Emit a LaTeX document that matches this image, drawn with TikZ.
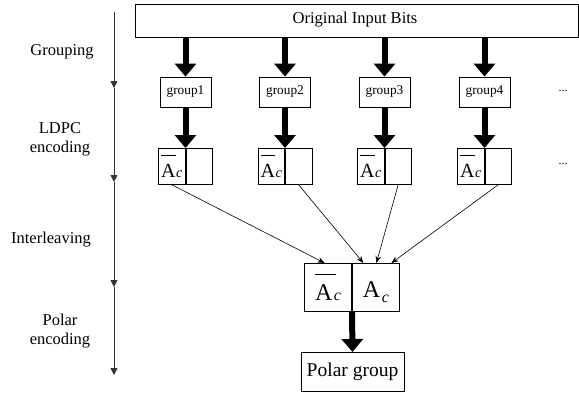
\documentclass[tikz,border=0pt]{standalone}
\usepackage{fontspec}
\setmainfont{Liberation Serif}
\usetikzlibrary{arrows.meta,calc}
\newcommand{\barA}[1]{\makebox[0pt][l]{\raisebox{1.05em}{\rule{#1}{0.7pt}}}A}
\newcommand{\smallbarAc}{\fontsize{20}{20}\selectfont\barA{0.72em}\kern0.5pt{\fontsize{14.5}{14.5}\selectfont\textit{c}}}
\newcommand{\bigbarAc}{\fontsize{24}{24}\selectfont\barA{0.85em}\kern1.5pt{\fontsize{16}{16}\selectfont\textit{c}}}
\newcommand{\bigAc}{\fontsize{24}{24}\selectfont\barA{0pt}\kern1.5pt\raisebox{-0.2em}{\fontsize{16}{16}\selectfont\textit{c}}}
\begin{document}
\begin{tikzpicture}[x=1pt,y=-1pt,
  box/.style={draw,line width=0.8pt,inner sep=0pt},
  fat/.style={line width=6pt,-{Triangle[width=21pt,length=13pt]}},
  thin/.style={line width=0.6pt,-{Stealth[length=7pt,width=5.5pt]}},
  axis/.style={line width=0.8pt,draw=black!80,-{Triangle[width=7pt,length=7pt]}},
  lab/.style={font=\fontsize{16.5}{19}\selectfont,align=center},
  grp/.style={box,minimum width=51pt,minimum height=30pt,font=\fontsize{13.3}{15}\selectfont},
  cell/.style={box,minimum width=26.5pt,minimum height=36pt},
  fcell/.style={box,minimum width=47pt,minimum height=48pt}]
\useasboundingbox (0,0) rectangle (579,394);

% axis
\coordinate (a0) at (114,12);
\coordinate (a1) at (114,88);
\coordinate (a2) at (114,182);
\coordinate (a3) at (114,287);
\coordinate (a4) at (114,375);
\draw[axis] (a0) -- (a1);
\draw[axis] (a1) -- (a2);
\draw[axis] (a2) -- (a3);
\draw[axis] (a3) -- (a4);

\node[lab] (t1) at (62,52) {Grouping};
\node[lab] (t2) at (60,139) {LDPC\\encoding};
\node[lab] (t3) at (51,240) {Interleaving};
\node[lab] (t4) at (60,331) {Polar\\encoding};

% top box
\node[box,anchor=north west,minimum width=443pt,minimum height=33pt] (top) at (135,4) {};
\node[font=\fontsize{16.5}{19}\selectfont] (toptext) at (355,20) {Original Input Bits};

% groups
\foreach \i/\cx in {1/185.5,2/285,3/384.5,4/484.5}{
  \node[grp] (g\i) at (\cx,92) {group\i};
  \node[cell,anchor=north east] (l\i) at (\cx,148) {\smallbarAc};
  \node[cell,anchor=north west] (r\i) at (\cx,148) {};
  \draw[fat] (top.south -| g\i.north) -- (g\i.north);
  \draw[fat] (g\i.south) -- (l\i.north east);
}
\node[font=\fontsize{12}{14}\selectfont] (d1) at (563,91) {...};
\node[font=\fontsize{12}{14}\selectfont] (d2) at (563,164) {...};

% final box
\node[fcell,anchor=north east] (fl) at (352,263) {\bigbarAc};
\node[fcell,anchor=north west] (fr) at (352,263) {\bigAc};

\draw[thin] (l1.south) -- ([xshift=-3.5pt]fl.north);
\draw[thin] (r2.south) -- ([xshift=-12.5pt]fr.north);
\draw[thin] (r3.south) -- ([xshift=0.5pt]fr.north);
\draw[thin] (r4.south) -- ([xshift=15.5pt]fr.north);

% polar group
\node[box,minimum width=103pt,minimum height=39pt,anchor=north,
      font=\fontsize{19.5}{22}\selectfont] (pg) at (352.5,352) {Polar group};
\draw[fat] (fl.south east) -- (pg.north);
\end{tikzpicture}
\end{document}
